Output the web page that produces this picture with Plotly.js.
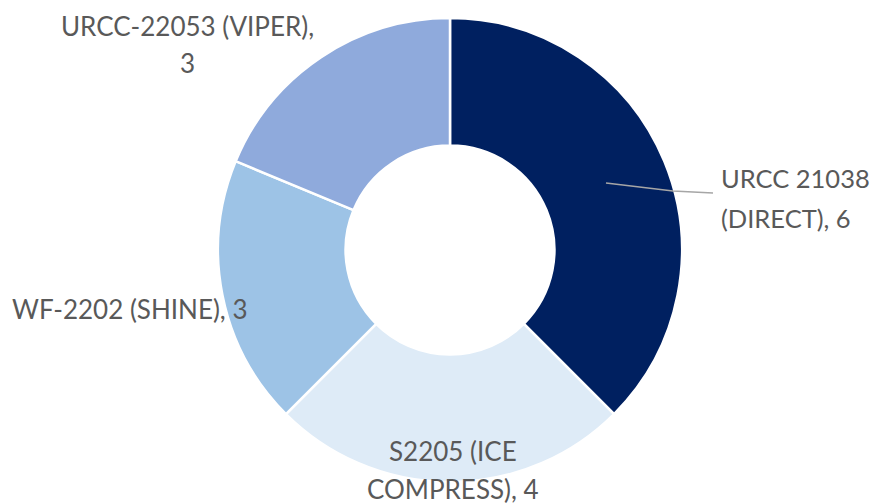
<!DOCTYPE html>
<html>
<head>
<meta charset="utf-8">
<script src="https://cdn.plot.ly/plotly-3.0.1.min.js"></script>
<style>
  html, body { margin: 0; padding: 0; background: #ffffff; }
  #chart { width: 876px; height: 504px; }
</style>
</head>
<body>
<div id="chart"></div>
<script>
// ---- data ----
const categories = ['URCC 21038 (DIRECT)', 'S2205 (ICE COMPRESS)', 'WF-2202 (SHINE)', 'URCC-22053 (VIPER)'];
const counts = [6, 4, 3, 3];
const sliceColors = ['#002060', '#DEEBF7', '#9DC3E6', '#8FAADC'];
// where each data label wraps onto a second line (character index, -1 = no wrap)
const wrapAt = [10, 10, -1, 19];

// ---- layout geometry (pixels) ----
const W = 876, H = 504;
const M = { l: 218, r: 194, t: 18, b: 22 };
const PW = W - M.l - M.r, PH = H - M.t - M.b;
const px2x = (px) => (px - M.l) / PW;
const py2y = (py) => (H - M.b - py) / PH;

function labelLines(i) {
  const full = categories[i] + ', ' + counts[i];
  const k = wrapAt[i];
  if (k < 0) return [full];
  return [full.slice(0, k).trim(), full.slice(k).trim()];
}

// label line positions in pixel space
const labelPos = [
  { x: 720, ys: [178, 218], anchor: 'left', size: 25.5 },
  { x: 453, ys: [451, 489], anchor: 'center', size: 26 },
  { x: 130, ys: [309], anchor: 'center', size: 26 },
  { x: 187, ys: [26, 63], anchor: 'center', size: 26 }
];

const annotations = [];
categories.forEach((c, i) => {
  labelLines(i).forEach((line, j) => {
    annotations.push({
      xref: 'paper', yref: 'paper',
      x: px2x(labelPos[i].x), y: py2y(labelPos[i].ys[j]),
      xanchor: labelPos[i].anchor, yanchor: 'middle',
      text: line,
      showarrow: false,
      borderpad: 0,
      font: { family: 'Lato, "Open Sans", sans-serif', size: labelPos[i].size, color: '#595959' }
    });
  });
});

const data = [{
  type: 'pie',
  labels: categories,
  values: counts,
  hole: 0.45,
  sort: false,
  direction: 'clockwise',
  rotation: 0,
  textinfo: 'none',
  hoverinfo: 'label+value',
  marker: { colors: sliceColors, line: { color: '#ffffff', width: 2.5 } },
  showlegend: false,
  automargin: false
}];

const layout = {
  width: W, height: H,
  margin: M,
  paper_bgcolor: '#ffffff',
  plot_bgcolor: '#ffffff',
  showlegend: false,
  annotations: annotations,
  shapes: [{
    type: 'path', xref: 'paper', yref: 'paper',
    path: 'M ' + px2x(606) + ' ' + py2y(183) + ' L ' + px2x(673) + ' ' + py2y(191) + ' L ' + px2x(713) + ' ' + py2y(193),
    line: { color: '#A6A6A6', width: 1.5 }
  }]
};

Plotly.newPlot('chart', data, layout, { displayModeBar: false, staticPlot: true });
</script>
</body>
</html>
